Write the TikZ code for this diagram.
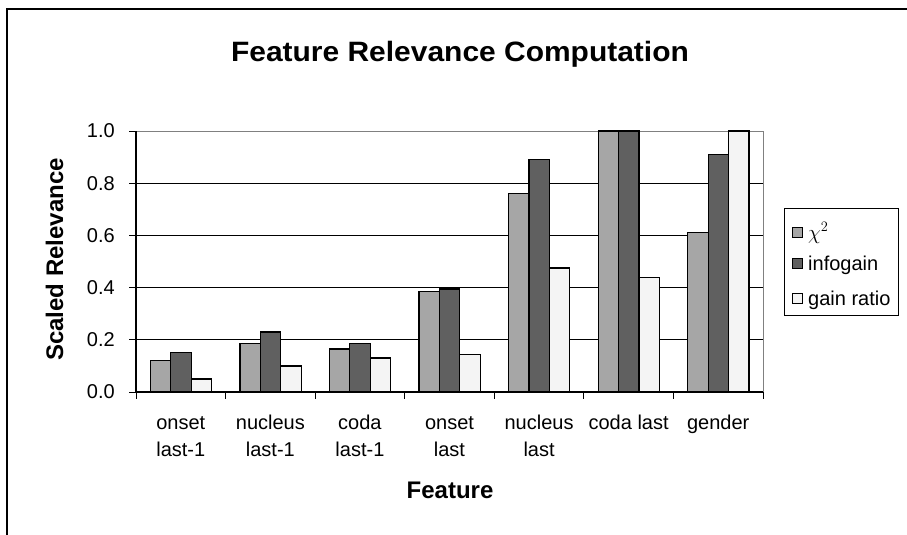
\documentclass[tikz,border=0pt]{standalone}
\usepackage{fontspec}
\setmainfont{Liberation Sans}

\definecolor{chigray}{HTML}{A6A6A6}
\definecolor{infogray}{HTML}{606060}
\definecolor{ratiogray}{HTML}{F4F4F4}

\tikzset{
    bar/.style={draw=black, line width=1.2pt},
    grid line/.style={line width=1pt},
    ticklabel/.style={font=\fontsize{20}{24}\selectfont, inner sep=0pt},
    catlabel/.style={font=\fontsize{20}{27}\selectfont, align=center, inner sep=0pt},
    axistitle/.style={font=\fontsize{24}{28}\selectfont\bfseries, inner sep=0pt},
    keylabel/.style={font=\fontsize{20}{24}\selectfont, inner sep=0pt}
}

\begin{document}
\begin{tikzpicture}[x=1pt, y=-1pt]
    \useasboundingbox (0, 0) rectangle (907, 535);
    % chart frame, only top and left visible
    \draw[line width=2pt] (7, 535) -- (7, 9) -- (907, 9);
    \node[font=\fontsize{28}{32}\selectfont\bfseries\addfontfeature{FakeStretch=1.07}, inner sep=0pt, anchor=base] (title) at (460, 62) {Feature Relevance Computation};

    \begin{scope}[shift={(136, 392)}, x=89.57pt, y=261pt]
        % grid
        \draw[grid line] (0, .2) -- (7, .2);
        \draw[grid line] (0, .4) -- (7, .4);
        \draw[grid line] (0, .6) -- (7, .6);
        \draw[grid line] (0, .8) -- (7, .8);
        \draw[grid line, gray] (0, 1) -- (7, 1) -- (7, 0);

        % bars: chi2, infogain, gain ratio
        \draw[bar, fill=chigray] (0.16, 0) rectangle (0.388, .12);
        \draw[bar, fill=infogray] (0.388, 0) rectangle (0.616, .15);
        \draw[bar, fill=ratiogray] (0.616, 0) rectangle (0.844, .05);

        \draw[bar, fill=chigray] (1.16, 0) rectangle (1.388, .185);
        \draw[bar, fill=infogray] (1.388, 0) rectangle (1.616, .23);
        \draw[bar, fill=ratiogray] (1.616, 0) rectangle (1.844, .10);

        \draw[bar, fill=chigray] (2.16, 0) rectangle (2.388, .165);
        \draw[bar, fill=infogray] (2.388, 0) rectangle (2.616, .185);
        \draw[bar, fill=ratiogray] (2.616, 0) rectangle (2.844, .13);

        \draw[bar, fill=chigray] (3.16, 0) rectangle (3.388, .385);
        \draw[bar, fill=infogray] (3.388, 0) rectangle (3.616, .395);
        \draw[bar, fill=ratiogray] (3.616, 0) rectangle (3.844, .145);

        \draw[bar, fill=chigray] (4.16, 0) rectangle (4.388, .76);
        \draw[bar, fill=infogray] (4.388, 0) rectangle (4.616, .89);
        \draw[bar, fill=ratiogray] (4.616, 0) rectangle (4.844, .475);

        \draw[bar, fill=chigray] (5.16, 0) rectangle (5.388, 1);
        \draw[bar, fill=infogray] (5.388, 0) rectangle (5.616, 1);
        \draw[bar, fill=ratiogray] (5.616, 0) rectangle (5.844, .44);

        \draw[bar, fill=chigray] (6.16, 0) rectangle (6.388, .61);
        \draw[bar, fill=infogray] (6.388, 0) rectangle (6.616, .91);
        \draw[bar, fill=ratiogray] (6.616, 0) rectangle (6.844, 1);

        % axes and ticks
        \draw[line width=1.2pt] (0, 1) -- (0, 0) -- (7, 0);
        \draw[line width=1pt] (0, 0) -- ++(-7pt, 0) (0, .2) -- ++(-7pt, 0) (0, .4) -- ++(-7pt, 0)
            (0, .6) -- ++(-7pt, 0) (0, .8) -- ++(-7pt, 0) (0, 1) -- ++(-7pt, 0);
        \draw[line width=1pt] (0, 0) -- ++(0, -7pt) (1, 0) -- ++(0, -7pt) (2, 0) -- ++(0, -7pt)
            (3, 0) -- ++(0, -7pt) (4, 0) -- ++(0, -7pt) (5, 0) -- ++(0, -7pt)
            (6, 0) -- ++(0, -7pt) (7, 0) -- ++(0, -7pt);

        \node[ticklabel, anchor=east] (y0) at ([xshift=-21pt]0, 0) {0.0};
        \node[ticklabel, anchor=east] (y2) at ([xshift=-21pt]0, .2) {0.2};
        \node[ticklabel, anchor=east] (y4) at ([xshift=-21pt]0, .4) {0.4};
        \node[ticklabel, anchor=east] (y6) at ([xshift=-21pt]0, .6) {0.6};
        \node[ticklabel, anchor=east] (y8) at ([xshift=-21pt]0, .8) {0.8};
        \node[ticklabel, anchor=east] (y10) at ([xshift=-21pt]0, 1) {1.0};

        % two-line labels sit on the baseline of their last line
        \node[catlabel, anchor=base] (onsetprev) at ([yshift=-64pt]0.5, 0) {onset\\last-1};
        \node[catlabel, anchor=base] (nucleusprev) at ([yshift=-64pt]1.5, 0) {nucleus\\last-1};
        \node[catlabel, anchor=base] (codaprev) at ([yshift=-64pt]2.5, 0) {coda\\last-1};
        \node[catlabel, anchor=base] (onsetlast) at ([yshift=-64pt]3.5, 0) {onset\\last};
        \node[catlabel, anchor=base] (nucleuslast) at ([yshift=-64pt]4.5, 0) {nucleus\\last};
        \node[catlabel, anchor=base] (codalast) at ([yshift=-37pt]5.5, 0) {coda last};
        \node[catlabel, anchor=base] (gender) at ([yshift=-37pt]6.5, 0) {gender};
    \end{scope}

    \node[axistitle, anchor=base] (xtitle) at (450, 498) {Feature};
    \node[axistitle, anchor=base, rotate=90] (ytitle) at (63, 259.5) {Scaled Relevance};

    % legend
    \node[draw, line width=1pt, minimum width=114pt, minimum height=107pt, inner sep=0pt] (legend) at (841, 261.5) {};
    \draw[line width=1pt, fill=chigray] (792, 227) rectangle (802, 237);
    \node[keylabel, anchor=base west] (keychi) at (808, 239) {$\chi^{2}$};
    \draw[line width=1pt, fill=infogray] (792, 258) rectangle (802, 268);
    \node[keylabel, anchor=base west] (keyinfo) at (808, 270) {infogain};
    \draw[line width=1pt, fill=ratiogray] (792, 293) rectangle (802, 303);
    \node[keylabel, anchor=base west] (keyratio) at (808, 305) {gain ratio};
\end{tikzpicture}
\end{document}
